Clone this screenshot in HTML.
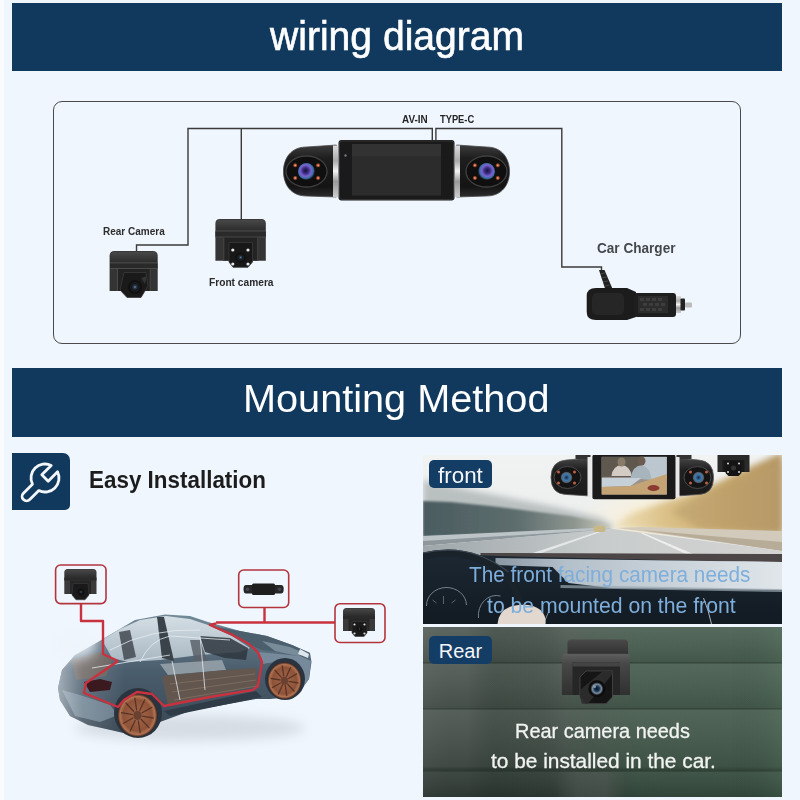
<!DOCTYPE html>
<html><head><meta charset="utf-8">
<style>
*{margin:0;padding:0;box-sizing:border-box}
html,body{width:800px;height:800px;overflow:hidden;background:#eff6fe}
body{font-family:"Liberation Sans",sans-serif;position:relative}
.abs{position:absolute}
.t{position:absolute;line-height:1;white-space:nowrap;transform-origin:0 0}
svg{position:absolute;left:0;top:0}
</style></head>
<body>
<div class="abs" style="left:0;top:0;width:3.5px;height:800px;background:#f9fbfd"></div>
<div class="abs" style="left:12px;top:3px;width:770px;height:68px;background:#11395e"></div>
<div class="abs" style="left:53px;top:101.2px;width:687.6px;height:243px;border:1.6px solid #4a4a4a;border-radius:9px"></div>
<div class="abs" style="left:12px;top:368px;width:770px;height:69px;background:#11395e"></div>
<svg width="800" height="800" viewBox="0 0 800 800">
  <defs>
    <linearGradient id="podg" x1="0" y1="0" x2="0" y2="1">
      <stop offset="0" stop-color="#3c3c3c"/><stop offset="0.25" stop-color="#1e1e1e"/><stop offset="0.8" stop-color="#141414"/><stop offset="1" stop-color="#2e2e2e"/>
    </linearGradient>
    <linearGradient id="silv" x1="0" y1="0" x2="1" y2="0">
      <stop offset="0" stop-color="#777"/><stop offset="0.5" stop-color="#f4f4f4"/><stop offset="1" stop-color="#888"/>
    </linearGradient>
    <linearGradient id="silvv" x1="0" y1="0" x2="0" y2="1">
      <stop offset="0" stop-color="#ddd"/><stop offset="0.3" stop-color="#aaa"/><stop offset="0.5" stop-color="#f4f4f4"/><stop offset="0.7" stop-color="#999"/><stop offset="1" stop-color="#ccc"/>
    </linearGradient>
    <radialGradient id="lens" cx="0.45" cy="0.45" r="0.55">
      <stop offset="0" stop-color="#141430"/><stop offset="0.3" stop-color="#3a2a80"/><stop offset="0.6" stop-color="#7a62d0"/><stop offset="0.82" stop-color="#3a70a8"/><stop offset="1" stop-color="#181c24"/>
    </radialGradient>
    <radialGradient id="led" cx="0.5" cy="0.5" r="0.5">
      <stop offset="0" stop-color="#ffd0a0"/><stop offset="0.45" stop-color="#c05a38"/><stop offset="1" stop-color="#3a1a14"/>
    </radialGradient>
    <linearGradient id="camtop" x1="0" y1="0" x2="0" y2="1">
      <stop offset="0" stop-color="#484848"/><stop offset="0.5" stop-color="#3a3a3a"/><stop offset="1" stop-color="#2c2c2c"/>
    </linearGradient>
    <radialGradient id="clens" cx="0.5" cy="0.5" r="0.5">
      <stop offset="0" stop-color="#6a8ab0"/><stop offset="0.35" stop-color="#2a3a4a"/><stop offset="0.8" stop-color="#101418"/><stop offset="1" stop-color="#2a2a2a"/>
    </radialGradient>
    <g id="pod">
      <path d="M0,-2 L-30,0 C-46,0 -53,12 -53,24.5 C-53,37 -46,49 -30,49 L0,50 Z" fill="url(#podg)" stroke="#4a4a4a" stroke-width="0.8"/>
      <ellipse cx="-30" cy="24.5" rx="20.5" ry="15.5" fill="#0f0f0f" stroke="#404040" stroke-width="1.3"/>
      <circle cx="-30" cy="24.5" r="8.5" fill="url(#lens)"/>
      <circle cx="-41.3" cy="18.3" r="2.3" fill="url(#led)"/>
      <circle cx="-18.4" cy="18.3" r="2.3" fill="url(#led)"/>
      <circle cx="-41.3" cy="31" r="2.3" fill="url(#led)"/>
      <circle cx="-18.4" cy="31" r="2.3" fill="url(#led)"/>
      <rect x="-3.5" y="-1.5" width="5" height="51.5" fill="url(#silvv)"/>
    </g>
  </defs>
  <!-- wires -->
  <g fill="none" stroke="#3a3a3a" stroke-width="1.4">
    <polyline points="136.5,252 136.5,245 188,245 188,128.5 432.3,128.5 432.3,141"/>
    <line x1="241.3" y1="128.5" x2="241.3" y2="219.5"/>
    <polyline points="435.9,141 435.9,128.5 561.8,128.5 561.8,267 601.5,267 601.5,272"/>
  </g>
  <!-- dashcam -->
  <use href="#pod" transform="translate(336.5,147)"/>
  <use href="#pod" transform="translate(456.5,147) scale(-1,1)"/>
  <rect x="338.5" y="140" width="116" height="60.5" rx="3" fill="#1a1a1a"/>
  <rect x="339.5" y="141" width="114" height="58.5" rx="2.5" fill="none" stroke="#3a3a3a" stroke-width="0.8"/>
  <rect x="352" y="144" width="89" height="51.5" fill="#2c2c2c"/>
  <rect x="352" y="144" width="89" height="12" fill="#323232"/>
  <circle cx="345.5" cy="155.5" r="1.2" fill="#777"/>

  <!-- rear camera -->
  <g>
    <path d="M109.6,291 L109.6,256 Q109.6,251 114.6,251 L152.7,251 Q157.7,251 157.7,256 L157.7,291 Z" fill="#343434"/>
    <path d="M110.3,262.5 L110.3,256 Q110.3,251.8 114.6,251.8 L152.7,251.8 Q157,251.8 157,256 L157,262.5 Z" fill="url(#camtop)"/>
    <rect x="110" y="262.5" width="47.5" height="1" fill="#555"/>
    <rect x="110" y="263.5" width="47.5" height="4.5" fill="#2a2a2a"/>
    <rect x="110" y="268" width="47.5" height="1" fill="#4a4a4a"/>
    <rect x="117" y="269" width="33.7" height="22" fill="#232323"/>
    <rect x="117" y="269" width="1" height="22" fill="#4a4a4a"/><rect x="149.7" y="269" width="1" height="22" fill="#4a4a4a"/>
    <path d="M124,272.5 L146,272.5 L148,286 L141,297.5 L127,297.5 L120,290 Z" fill="#1a1a1a" stroke="#3a3a3a" stroke-width="0.8"/>
    <path d="M141,278 L147,276 L145,284 Z" fill="#333"/>
    <circle cx="135" cy="287" r="7" fill="#101010"/>
    <circle cx="135" cy="287" r="4.5" fill="url(#clens)"/>
  </g>
  <!-- front camera -->
  <g>
    <path d="M215.4,260.7 L215.4,223.5 Q215.4,219 219.9,219 L261.3,219 Q265.8,219 265.8,223.5 L265.8,260.7 Z" fill="#343434"/>
    <path d="M216.1,230.6 L216.1,223.5 Q216.1,219.8 219.9,219.8 L261.3,219.8 Q265.1,219.8 265.1,223.5 L265.1,230.6 Z" fill="url(#camtop)"/>
    <rect x="215.4" y="230.6" width="50.4" height="1" fill="#555"/>
    <rect x="215.4" y="231.6" width="50.4" height="5" fill="#2a2a2a"/>
    <rect x="215.4" y="236.6" width="50.4" height="1" fill="#4a4a4a"/>
    <rect x="223.3" y="237.6" width="35" height="23" fill="#232323"/>
    <rect x="223.3" y="237.6" width="1" height="23" fill="#4a4a4a"/><rect x="257.3" y="237.6" width="1" height="23" fill="#4a4a4a"/>
    <path d="M229,242.5 L252.5,242.5 L252.5,262 L248,267.3 L233,267.3 L229,262 Z" fill="#181818" stroke="#383838" stroke-width="0.8"/>
    <circle cx="232.8" cy="250" r="1.6" fill="#e8e8e8"/>
    <circle cx="248" cy="250" r="1.6" fill="#e8e8e8"/>
    <circle cx="232.8" cy="264" r="1.6" fill="#e8e8e8"/>
    <circle cx="248" cy="264" r="1.6" fill="#e8e8e8"/>
    <circle cx="240.6" cy="257.4" r="5" fill="#101010"/>
    <circle cx="240.6" cy="257.4" r="3.2" fill="url(#clens)"/>
  </g>
  <!-- car charger -->
  <g>
    <path d="M599,270 L604.5,270 L613,290 L606,291.5 Z" fill="#222"/>
    <g stroke="#555" stroke-width="0.7"><line x1="600.5" y1="274" x2="605" y2="273"/><line x1="601.5" y1="278" x2="606.5" y2="277"/><line x1="603" y1="282" x2="608" y2="281"/><line x1="604.5" y1="286" x2="609.5" y2="285"/></g>
    <path d="M627,288 L596,288 Q586.7,288 586.7,296 L586.7,312 Q586.7,320 596,320 L627,320 L636,317 L636,292 Z" fill="#1c1c1c"/>
    <rect x="592" y="293" width="32" height="22" rx="5" fill="#262626"/>
    <rect x="634" y="293" width="42" height="24" rx="3" fill="#1e1e1e"/>
    <rect x="638" y="296" width="30" height="17" fill="#2c2c2c"/>
    <g fill="#3d3d3d"><rect x="640" y="298" width="4" height="3"/><rect x="646" y="298" width="4" height="3"/><rect x="652" y="298" width="4" height="3"/><rect x="658" y="298" width="4" height="3"/><rect x="643" y="303" width="4" height="3"/><rect x="649" y="303" width="4" height="3"/><rect x="655" y="303" width="4" height="3"/><rect x="661" y="303" width="4" height="3"/><rect x="640" y="308" width="4" height="3"/><rect x="646" y="308" width="4" height="3"/><rect x="652" y="308" width="4" height="3"/><rect x="658" y="308" width="4" height="3"/></g>
    <rect x="676" y="296" width="5" height="17" fill="url(#silvv)"/>
    <rect x="680.5" y="298.5" width="4.5" height="12" rx="1" fill="#222"/>
    <rect x="685" y="302.5" width="7" height="5" rx="1" fill="#bbb"/>
  </g>
</svg>

<div class="abs" style="left:12px;top:453px;width:57.5px;height:57px;background:#11395e;border-radius:0 7px 5px 0"></div>
<svg width="800" height="800" viewBox="0 0 800 800"><path transform="translate(45,478) rotate(45)" d="M-4.5,-13.26 L-4.5,0 L4.5,0 L4.5,-13.26 A14,14 0 0 1 4.5,13.26 L4.5,26 A4.5,4.5 0 0 1 -4.5,26 L-4.5,13.26 A14,14 0 0 1 -4.5,-13.26 Z" fill="none" stroke="#f4f7fa" stroke-width="2.8" stroke-linejoin="round"/></svg>
<svg width="800" height="800" viewBox="0 0 800 800">
  <defs>
    <filter id="blur6" x="-20%" y="-50%" width="140%" height="200%"><feGaussianBlur stdDeviation="6"/></filter>
    <filter id="blur2"><feGaussianBlur stdDeviation="1.5"/></filter>
    <filter id="blur1"><feGaussianBlur stdDeviation="0.7"/></filter>
    <linearGradient id="bodyg" x1="0" y1="0" x2="0" y2="1">
      <stop offset="0" stop-color="#6c8494"/><stop offset="0.45" stop-color="#425666"/><stop offset="1" stop-color="#2e3c48"/>
    </linearGradient>
    <linearGradient id="glassg" x1="0" y1="0" x2="0" y2="1">
      <stop offset="0" stop-color="#e6edf2"/><stop offset="1" stop-color="#b8c6d0"/>
    </linearGradient>
    <radialGradient id="wheelg" cx="0.5" cy="0.5" r="0.5">
      <stop offset="0" stop-color="#5a3428"/><stop offset="0.25" stop-color="#9c6044"/><stop offset="0.72" stop-color="#8e5238"/><stop offset="0.88" stop-color="#b07452"/><stop offset="0.95" stop-color="#6a4030"/><stop offset="1" stop-color="#2e2224"/>
    </radialGradient>
  </defs>
  <!-- soft shadow/haze -->
  <ellipse cx="190" cy="728" rx="115" ry="13" fill="#d6dde4" filter="url(#blur6)"/>
  <!-- body silhouette -->
  <path d="M60,700 L58,688 L62,670 L75,655 L98,642 L108,636 L135,620 L165,614.5 L190,616 L208,622 L240,631 L267,636 L292,645 L310,653 L311.5,662 L309,679 L301,690 L292,697 L270,699 L256,699 L190,711 L160,722 L140,737 L115,731 L88,725 L70,716 Z" fill="url(#bodyg)" opacity="0.95"/>
  <!-- rear lighter haze on left -->
  <path d="M72,660 L100,652 L112,660 L106,676 L76,680 Z" fill="#6e6058" opacity="0.85" filter="url(#blur1)"/>
  <path d="M62,690 L80,695 L110,705 L118,715 L100,722 L75,716 Z" fill="#7e92a2" opacity="0.7" filter="url(#blur1)"/>
  <linearGradient id="rearfade" gradientUnits="userSpaceOnUse" x1="55" y1="0" x2="125" y2="0"><stop offset="0" stop-color="#eef4fa" stop-opacity="0.6"/><stop offset="0.4" stop-color="#dfe8ef" stop-opacity="0.2"/><stop offset="1" stop-color="#dfe8ef" stop-opacity="0"/></linearGradient>
  <path d="M60,700 L58,688 L62,670 L75,655 L98,642 L108,636 L125,628 L125,735 L115,731 L88,725 L70,716 Z" fill="url(#rearfade)"/>
  <ellipse cx="75" cy="645" rx="22" ry="14" fill="#eef4fa" opacity="0.8" filter="url(#blur6)"/>
  <!-- glass greenhouse -->
  <path d="M102,640 L120,629 L140,620 L166,616 L190,619 L208,625 L232,636 L250,648 L240,652 L200,655 L160,660 L128,662 L112,658 Z" fill="url(#glassg)" opacity="0.85"/>
  <!-- hood -->
  <path d="M216,627 L240,631 L267,636 L292,645 L310,653 L305,657 L280,652 L262,650 L250,645 Z" fill="#4a5e6c" opacity="0.95"/>
  <path d="M262,641 L290,647 L306,654 L298,656 L275,651 Z" fill="#8a9eac" opacity="0.7"/>
  <!-- front fender / bumper -->
  <path d="M258,652 L300,656 L311,661 L309,679 L301,690 L296,680 L290,668 L275,662 L262,664 Z" fill="#7a8ea0" opacity="0.9"/>
  <path d="M300,649 L309,654 L308,658 L298,654 Z" fill="#dde6ec"/>
  <!-- dashboard dark -->
  <path d="M200,636 L230,638 L248,648 L246,660 L225,658 L205,652 Z" fill="#2e363e" opacity="0.85"/>
  <!-- B pillar -->
  <path d="M157,617 L164,617 L174,661 L162,658 Z" fill="#3a424a"/>
  <!-- rear seat -->
  <path d="M119,632 L130,630 L136,657 L124,660 Z" fill="#4a5058" opacity="0.9"/>
  <!-- front seats -->
  <path d="M190,640 L200,640 L210,668 L196,668 Z" fill="#5a626a" opacity="0.85"/>
  <path d="M160,664 L222,660 L226,670 L168,675 Z" fill="#9aa4ac" opacity="0.85"/>
  <!-- floor -->
  <path d="M162,676 L226,670 L256,668 L258,686 L220,694 L168,706 Z" fill="#64564e" opacity="0.95"/>
  <g stroke="#8a7868" stroke-width="0.8" opacity="0.8"><line x1="170" y1="684" x2="255" y2="674"/><line x1="172" y1="692" x2="256" y2="680"/><line x1="174" y1="700" x2="257" y2="686"/></g>
  <!-- interior frame lines (light) -->
  <g fill="none" stroke="#e8eef2" stroke-width="0.9" opacity="0.85">
    <path d="M110,650 Q150,628 200,630"/>
    <path d="M140,662 Q150,640 170,636 L230,640"/>
    <path d="M200,636 L205,690"/>
    <path d="M172,661 L180,700"/>
    <path d="M92,668 L170,655"/>
  </g>
  <!-- tail light -->
  <path d="M84,682 L100,679 L112,682 L110,690 L90,692 Z" fill="#3a1a1e"/>
  <!-- lower sill dark band -->
  <path d="M164,711 L256,691 L262,697 L170,716 Z" fill="#2f3c48"/>
  <!-- wheel arches dark -->
  <ellipse cx="138" cy="713" rx="24" ry="25" fill="#2a3440"/>
  <ellipse cx="285" cy="679" rx="20" ry="21" fill="#2a3440"/>
  <!-- wheels -->
  <ellipse cx="137.5" cy="715.4" rx="20" ry="21.6" fill="url(#wheelg)"/>
  <ellipse cx="284.5" cy="680.7" rx="17" ry="18.5" fill="url(#wheelg)"/>
  <g stroke="#4a2a20" stroke-width="1.3" opacity="0.8"><line x1="142.2" y1="716.2" x2="154.0" y2="718.1"/><line x1="140.9" y1="719.0" x2="149.4" y2="728.1"/><line x1="138.3" y1="720.5" x2="140.2" y2="733.2"/><line x1="135.4" y1="720.0" x2="130.0" y2="731.5"/><line x1="133.3" y1="717.8" x2="122.7" y2="723.7"/><line x1="132.8" y1="714.6" x2="121.0" y2="712.7"/><line x1="134.1" y1="711.8" x2="125.6" y2="702.7"/><line x1="136.7" y1="710.3" x2="134.8" y2="697.6"/><line x1="139.6" y1="710.8" x2="145.0" y2="699.3"/><line x1="141.7" y1="713.0" x2="152.3" y2="707.1"/><line x1="288.5" y1="681.4" x2="298.4" y2="683.0"/><line x1="287.3" y1="683.8" x2="294.5" y2="691.5"/><line x1="285.2" y1="685.0" x2="286.8" y2="695.9"/><line x1="282.7" y1="684.6" x2="278.2" y2="694.5"/><line x1="280.9" y1="682.7" x2="272.0" y2="687.8"/><line x1="280.5" y1="680.0" x2="270.6" y2="678.4"/><line x1="281.7" y1="677.6" x2="274.5" y2="669.9"/><line x1="283.8" y1="676.4" x2="282.2" y2="665.5"/><line x1="286.3" y1="676.8" x2="290.8" y2="666.9"/><line x1="288.1" y1="678.7" x2="297.0" y2="673.6"/></g>
  <ellipse cx="137.5" cy="715.4" rx="4" ry="4.5" fill="#6a4030"/>
  <ellipse cx="284.5" cy="680.7" rx="3.5" ry="4" fill="#6a4030"/>
  <!-- red wire harness -->
  <g fill="none" stroke="#c8323e" stroke-width="2.4" stroke-linejoin="round">
    <polyline points="81,603.5 81,621 103,621 103,654 118,661"/>
    <polyline points="118,661 86,683 84,693 118,707 124,700 137,692 152,694 164,706 210,697 252.5,690 258,686 262,662 258,652.5 249,644 232,634.7 210,625 216,623.5"/>
    <polyline points="216,622.5 335,622.5"/>
    <polyline points="264.5,607.5 264.5,622.5"/>
  </g>
  <!-- red inset boxes -->
  <g fill="#eff6fe" stroke="#b4343e" stroke-width="1.6">
    <rect x="55.6" y="565" width="50.4" height="38.6" rx="5"/>
    <rect x="238.7" y="570" width="50" height="37.5" rx="5"/>
    <rect x="335" y="603.7" width="50" height="38.8" rx="5"/>
  </g>
  <!-- inset: rear cam -->
  <g>
    <path d="M64.3,594 L64.3,572.5 Q64.3,569 67.8,569 L93,569 Q96.5,569 96.5,572.5 L96.5,594 Z" fill="#3a3a3a"/>
    <path d="M65,577.5 L65,572.5 Q65,569.7 67.8,569.7 L93,569.7 Q95.8,569.7 95.8,572.5 L95.8,577.5 Z" fill="url(#camtop)"/>
    <rect x="64.3" y="577.5" width="32.2" height="3" fill="#2a2a2a"/>
    <rect x="70" y="580.5" width="21" height="13.5" fill="#262626"/>
    <path d="M73,583.5 L88,583.5 L89,595 L85,599.8 L76,599.8 L72,595 Z" fill="#1a1a1a" stroke="#3a3a3a" stroke-width="0.6"/>
    <circle cx="81" cy="592" r="3.6" fill="#101010"/><circle cx="81" cy="592" r="1.8" fill="url(#clens)"/>
  </g>
  <!-- inset: dashcam -->
  <g>
    <rect x="252" y="583.5" width="23" height="11.5" rx="1.5" fill="#1e1e1e"/>
    <path d="M252,585 L246,585 Q243.5,585 243.5,589 Q243.5,593.5 246,593.5 L252,593.5 Z" fill="#262626"/>
    <path d="M275,585 L281,585 Q283.7,585 283.7,589 Q283.7,593.5 281,593.5 L275,593.5 Z" fill="#262626"/>
    <circle cx="247.5" cy="589.2" r="1.8" fill="#445"/><circle cx="279.5" cy="589.2" r="1.8" fill="#445"/>
  </g>
  <!-- inset: front cam -->
  <g>
    <path d="M343,631 L343,611.5 Q343,608 346.5,608 L371.5,608 Q375,608 375,611.5 L375,631 Z" fill="#3a3a3a"/>
    <path d="M343.7,616 L343.7,611.5 Q343.7,608.7 346.5,608.7 L371.5,608.7 Q374.3,608.7 374.3,611.5 L374.3,616 Z" fill="url(#camtop)"/>
    <rect x="343" y="616" width="32" height="3" fill="#2a2a2a"/>
    <rect x="348.5" y="619" width="21" height="12" fill="#262626"/>
    <path d="M352,621.5 L367,621.5 L367,633 L364,636.5 L355,636.5 L352,633 Z" fill="#1a1a1a" stroke="#3a3a3a" stroke-width="0.6"/>
    <circle cx="354.5" cy="624.5" r="1.1" fill="#ddd"/><circle cx="364.5" cy="624.5" r="1.1" fill="#ddd"/>
    <circle cx="354.5" cy="633.5" r="1.1" fill="#ddd"/><circle cx="364.5" cy="633.5" r="1.1" fill="#ddd"/>
    <circle cx="359.5" cy="629" r="2.6" fill="#101010"/><circle cx="359.5" cy="629" r="1.4" fill="url(#clens)"/>
  </g>
</svg>

<div class="abs" style="left:422.5px;top:455px;width:359.5px;height:169px;background:#8a8f90;overflow:hidden"><svg width="359.5" height="169" viewBox="422.5 455 359.5 169" style="position:absolute;left:0;top:0">
  <defs>
    <linearGradient id="fsky" x1="0" y1="0" x2="0" y2="1"><stop offset="0" stop-color="#f1f3f3"/><stop offset="1" stop-color="#e6e8e6"/></linearGradient>
    <radialGradient id="fglow" cx="0.5" cy="0.5" r="0.5"><stop offset="0" stop-color="#fbf0d6"/><stop offset="1" stop-color="#fbf0d6" stop-opacity="0"/></radialGradient>
    <linearGradient id="ftree" x1="0" y1="0" x2="1" y2="0"><stop offset="0" stop-color="#4a5c60"/><stop offset="0.5" stop-color="#5e6e6e"/><stop offset="0.8" stop-color="#8e9690"/><stop offset="1" stop-color="#d0cec0"/></linearGradient>
    <linearGradient id="fgrass" x1="0" y1="0" x2="1" y2="0"><stop offset="0" stop-color="#efe2bc"/><stop offset="0.3" stop-color="#dcc28a"/><stop offset="0.7" stop-color="#c4a468"/><stop offset="1" stop-color="#b49664"/></linearGradient>
    <linearGradient id="froad" x1="0" y1="0" x2="1" y2="0"><stop offset="0" stop-color="#9ea6aa"/><stop offset="0.5" stop-color="#c8cccc"/><stop offset="1" stop-color="#d4d4d2"/></linearGradient>
    <linearGradient id="fdash" x1="0" y1="0" x2="0" y2="1"><stop offset="0" stop-color="#1c2833"/><stop offset="1" stop-color="#121a22"/></linearGradient>
    <linearGradient id="fdtop" x1="0" y1="0" x2="1" y2="0"><stop offset="0" stop-color="#8a98a4"/><stop offset="0.25" stop-color="#b4c0ca"/><stop offset="1" stop-color="#e0e6ea"/></linearGradient>
    <filter id="fb3" x="-10%" y="-30%" width="120%" height="160%"><feGaussianBlur stdDeviation="3"/></filter>
    <filter id="fb1"><feGaussianBlur stdDeviation="1"/></filter>
    <filter id="fb05"><feGaussianBlur stdDeviation="0.6"/></filter>
  </defs>
  <rect x="422.5" y="455" width="359.5" height="169" fill="url(#fsky)"/>
  <ellipse cx="650" cy="515" rx="70" ry="30" fill="url(#fglow)"/>
  <!-- trees left -->
  <path d="M422.5,480 L440,484 L470,490 L510,498 L560,508 L600,518 L615,527 L600,531 L422.5,537 Z" fill="#a4acac" opacity="0.7" filter="url(#fb3)"/>
  <path d="M422.5,501 L450,502 L490,506 L530,511 L570,516 L600,522 L612,527 L600,530 L422.5,537 Z" fill="url(#ftree)" filter="url(#fb1)"/>
  <!-- grass right -->
  <path d="M782,452 L760,462 L730,476 L700,491 L660,503 L630,514 L612,527 L660,531 L782,534 Z" fill="url(#fgrass)" filter="url(#fb3)"/>
  <path d="M782,462 L740,478 L700,496 L670,512 L700,528 L782,530 Z" fill="#b89c6c" opacity="0.55" filter="url(#fb3)"/>
  <!-- guardrails -->
  <path d="M422.5,536 L605,527.5 L612,528.5 L600,531 L422.5,545 Z" fill="#bcc4c8"/>
  <path d="M422.5,541 L600,530 L422.5,546 Z" fill="#8e989c"/>
  <path d="M782,531 L640,527 L616,528 L640,531 L782,551 Z" fill="#d2cabb"/>
  <path d="M782,542 L640,530 L782,551 Z" fill="#b0a48e" opacity="0.8"/>
  <!-- road -->
  <path d="M422.5,546 L612,529 L782,551 L782,560 L422.5,560 Z" fill="url(#froad)"/>
  <path d="M596,532 L600,532 L530,557 L520,557 Z" fill="#eef0f0" opacity="0.8"/>
  <path d="M640,533 L643,533 L700,557 L692,557 Z" fill="#f2f2f0" opacity="0.9"/>
  <rect x="593" y="526" width="12" height="6" rx="2" fill="#c8b888"/>
  <!-- hood line -->
  <path d="M480,553 L782,554 L782,562 L480,558.5 Z" fill="#4c4646"/>
  <!-- dashboard -->
  <path d="M422.5,553 L500,556 L782,563 L782,624 L422.5,624 Z" fill="url(#fdash)"/>
  <path d="M495,558 L782,562 L782,590 L610,588 L568,583 L552,567 L495,565 Z" fill="url(#fdtop)"/>
  <path d="M560,585 L782,589 L782,592 L560,588 Z" fill="#9aa6b0" opacity="0.7"/>
  <!-- gauges -->
  <g fill="none" stroke="#8a98a4" stroke-width="1" opacity="0.8">
    <path d="M426,606 A20,18 0 0 1 466,605"/>
    <path d="M478,618 A18,20 0 0 1 500,596"/>
  </g>
  <g stroke="#8a98a4" stroke-width="0.8" opacity="0.7"><line x1="443" y1="596" x2="443" y2="604"/><line x1="432" y1="600" x2="436" y2="603"/><line x1="455" y1="600" x2="451" y2="603"/></g>
  <!-- steering wheel -->
  <path d="M422.5,556 Q470,545 505,575 Q522,595 522,624" fill="none" stroke="#1a222a" stroke-width="7"/>
  <path d="M422.5,553 Q470,542 508,572" fill="none" stroke="#3a4650" stroke-width="1.2"/>
  <!-- hand -->
  <path d="M497,624 Q498,610 512,606 Q530,602 540,610 Q546,616 545,624 Z" fill="#e3d8cf"/>
  <!-- reflection line -->
  <path d="M703,598 Q708,610 711,624" fill="none" stroke="#d0d8de" stroke-width="1" opacity="0.8"/>
  <path d="M548,612 L543,624" stroke="#d0d8de" stroke-width="1" opacity="0.6"/>
  <!-- dashcam product -->
  <defs>
    <radialGradient id="flens" cx="0.5" cy="0.5" r="0.5"><stop offset="0" stop-color="#1a2a44"/><stop offset="0.5" stop-color="#3a78b0"/><stop offset="0.8" stop-color="#5a6a7a"/><stop offset="1" stop-color="#202020"/></radialGradient>
    <linearGradient id="fpod" x1="0" y1="0" x2="0" y2="1"><stop offset="0" stop-color="#444"/><stop offset="0.3" stop-color="#222"/><stop offset="1" stop-color="#1a1a1a"/></linearGradient>
  </defs>
  <path d="M590,458 L566,460 Q550.5,461 550.5,477.5 Q550.5,494 566,494.5 L590,496 Z" fill="url(#fpod)" stroke="#555" stroke-width="0.8"/>
  <path d="M676,458 L698,460 Q713,461 713,477.5 Q713,494 698,494.5 L676,496 Z" fill="url(#fpod)" stroke="#555" stroke-width="0.8"/>
  <rect x="575" y="452" width="15" height="7" fill="#333"/>
  <rect x="676" y="452" width="15" height="7" fill="#333"/>
  <ellipse cx="567" cy="477.5" rx="13.5" ry="11" fill="#141414" stroke="#4a4a4a" stroke-width="1"/>
  <ellipse cx="697" cy="477.5" rx="13.5" ry="11" fill="#141414" stroke="#4a4a4a" stroke-width="1"/>
  <circle cx="566" cy="477.5" r="6" fill="url(#flens)"/>
  <circle cx="698" cy="477.5" r="6" fill="url(#flens)"/>
  <g fill="#c06040"><circle cx="558" cy="472" r="1.5"/><circle cx="574" cy="472" r="1.5"/><circle cx="558" cy="483" r="1.5"/><circle cx="574" cy="483" r="1.5"/><circle cx="690" cy="472" r="1.5"/><circle cx="706" cy="472" r="1.5"/><circle cx="690" cy="483" r="1.5"/><circle cx="706" cy="483" r="1.5"/></g>
  <rect x="587" y="457" width="4" height="40" fill="#e8e8e8"/>
  <rect x="675" y="457" width="4" height="40" fill="#e8e8e8"/>
  <rect x="591.9" y="454.75" width="83.1" height="44.6" rx="2" fill="#1a1a1a"/>
  <rect x="601.25" y="456.9" width="65" height="37.5" fill="#8a8a84"/>
  <!-- screen content -->
  <g filter="url(#fb05)">
  <rect x="601.25" y="456.9" width="65" height="37.5" fill="#9a9288"/>
  <rect x="601.25" y="456.9" width="40" height="20" fill="#5e5850"/>
  <rect x="641" y="456.9" width="25.25" height="22" fill="#bcc6ce"/>
  <path d="M611,476 Q612,466 621,465 Q630,466 631,476 Z" fill="#d4ccc4"/>
  <path d="M630,478 Q632,466 641,465 Q650,467 651,480 Z" fill="#a8b4bc"/>
  <ellipse cx="621" cy="462" rx="4" ry="4.5" fill="#8a7a6a"/>
  <ellipse cx="641" cy="461" rx="4" ry="4.5" fill="#6a5a50"/>
  <path d="M601.25,478 L641,478 L630,486 L601.25,487 Z" fill="#c6d0d8"/>
  <path d="M601.25,487 L630,486 L666.25,474 L666.25,494.4 L601.25,494.4 Z" fill="#c4a474"/>
  <ellipse cx="653" cy="488" rx="6" ry="3" fill="#8a3a30"/>
  </g>
  <!-- small rear cam -->
  <path d="M717,472 L717,456 Q717,453 720,453 L746,453 Q749,453 749,456 L749,472 Z" fill="#2a2a2a"/>
  <rect x="722" y="460" width="22" height="12" fill="#1a1a1a"/>
  <path d="M725,461 L741,461 L741,473 L738,476 L728,476 L725,473 Z" fill="#141414"/>
  <g fill="#ddd"><circle cx="727.5" cy="463.5" r="1"/><circle cx="738.5" cy="463.5" r="1"/><circle cx="727.5" cy="472" r="1"/><circle cx="738.5" cy="472" r="1"/></g>
  <circle cx="733" cy="468" r="2.5" fill="#333"/>
</svg>
<div style="position:absolute;left:6.3px;top:5.3px;width:63.4px;height:28.2px;background:#143d66;border-radius:5px"></div>
</div>
<div class="abs" style="left:423px;top:627px;width:359px;height:170px;background:#4a5a50;overflow:hidden"><svg width="359" height="170" viewBox="423 627 359 170" style="position:absolute;left:0;top:0">
  <defs>
    <linearGradient id="rbgv" x1="0" y1="0" x2="0" y2="1"><stop offset="0" stop-color="#525c56"/><stop offset="0.45" stop-color="#4c5650"/><stop offset="0.82" stop-color="#444e48"/><stop offset="0.84" stop-color="#323c37"/><stop offset="1" stop-color="#303a35"/></linearGradient>
    <linearGradient id="rvband" gradientUnits="userSpaceOnUse" x1="423" y1="0" x2="782" y2="0"><stop offset="0" stop-color="#ffffff" stop-opacity="0.03"/><stop offset="0.12" stop-color="#000000" stop-opacity="0"/><stop offset="0.2" stop-color="#0a1a10" stop-opacity="0.16"/><stop offset="0.32" stop-color="#0a1a10" stop-opacity="0.12"/><stop offset="0.4" stop-color="#000000" stop-opacity="0"/><stop offset="0.85" stop-color="#000000" stop-opacity="0"/><stop offset="1" stop-color="#8ac09a" stop-opacity="0.08"/></linearGradient>
    <linearGradient id="rpatch" x1="0" y1="0" x2="1" y2="0"><stop offset="0" stop-color="#5a5e5c" stop-opacity="0"/><stop offset="0.3" stop-color="#5a5e5c" stop-opacity="0.4"/><stop offset="0.7" stop-color="#5a5e5c" stop-opacity="0.4"/><stop offset="1" stop-color="#5a5e5c" stop-opacity="0"/></linearGradient>
    <linearGradient id="rbg" x1="0" y1="0" x2="1" y2="0"><stop offset="0" stop-color="#3c6a4c" stop-opacity="0"/><stop offset="0.35" stop-color="#3c6a4c" stop-opacity="0.05"/><stop offset="0.6" stop-color="#3c6a4c" stop-opacity="0.3"/><stop offset="1" stop-color="#3c6a4c" stop-opacity="0.35"/></linearGradient>
    <linearGradient id="rband" x1="0" y1="0" x2="0" y2="1"><stop offset="0" stop-color="#ffffff" stop-opacity="0.06"/><stop offset="1" stop-color="#000000" stop-opacity="0.08"/></linearGradient>
    <radialGradient id="rlens" cx="0.5" cy="0.5" r="0.5"><stop offset="0" stop-color="#0a1018"/><stop offset="0.4" stop-color="#1e3a58"/><stop offset="0.7" stop-color="#7a90a4"/><stop offset="0.88" stop-color="#3a4048"/><stop offset="1" stop-color="#151515"/></radialGradient>
    <linearGradient id="rtop" x1="0" y1="0" x2="0" y2="1"><stop offset="0" stop-color="#4a4a4a"/><stop offset="1" stop-color="#2e2e2e"/></linearGradient>
    <linearGradient id="rframe" x1="0" y1="0" x2="0" y2="1"><stop offset="0" stop-color="#5e5e5e"/><stop offset="0.25" stop-color="#474747"/><stop offset="1" stop-color="#303030"/></linearGradient>
  </defs>
  <rect x="423" y="627" width="359" height="170" fill="url(#rbgv)"/>
  <rect x="423" y="627" width="359" height="170" fill="url(#rbg)"/>
  <rect x="423" y="627" width="359" height="35" fill="url(#rband)"/>
  <rect x="423" y="663.5" width="359" height="44" fill="url(#rband)"/>
  <rect x="423" y="709.5" width="359" height="60" fill="url(#rband)"/>
  <rect x="423" y="771.5" width="359" height="26" fill="url(#rband)"/>
  <g fill="#2c3830" opacity="0.6"><rect x="423" y="662" width="359" height="1.5"/><rect x="423" y="707.8" width="359" height="1.7"/><rect x="423" y="769.5" width="359" height="2"/></g>
  <rect x="423" y="627" width="359" height="170" fill="url(#rvband)"/>
  <rect x="556" y="772" width="70" height="25" fill="url(#rpatch)"/>
  <!-- camera -->
  <path d="M567.5,656 L567.5,643 Q567.5,639.4 571,639.4 L624.5,639.4 Q628,639.4 628,643 L628,656 Z" fill="url(#rtop)"/>
  <path d="M561.9,695 L561.9,658 Q561.9,653.7 566,653.7 L626,653.7 Q630,653.7 630,658 L630,695 Z" fill="url(#rframe)"/>
  <rect x="572.5" y="662.5" width="47.5" height="32.5" fill="#262626"/>
  <rect x="572.5" y="662.5" width="47.5" height="4" fill="#444"/>
  <path d="M586,671 L612.5,671 L612.5,697 L606,703.75 L586,703.75 L580,697 L580,677 Z" fill="#151515" stroke="#4a4a4a" stroke-width="0.8"/>
  <path d="M580,690 L603,671 L612.5,671 L612.5,674 L588,703.75 L582,703.75 L580,697 Z" fill="#2e2e2e" opacity="0.9"/>
  <circle cx="596.9" cy="688.75" r="8.5" fill="#0c0c0c"/>
  <circle cx="596.9" cy="688.75" r="6.5" fill="url(#rlens)"/>
  <circle cx="594.5" cy="686.5" r="1.5" fill="#9ab" opacity="0.8"/>
</svg>
<div style="position:absolute;left:6px;top:9px;width:62.5px;height:27.5px;background:#143d66;border-radius:5px"></div>
</div>
<div class="t" style="left:270.0px;top:15.89px;font-size:40px;font-weight:400;color:#fff;transform:scaleX(0.977);-webkit-text-stroke:0.6px #fff;">wiring diagram</div>
<div class="t" style="left:243.2px;top:379.48px;font-size:39.6px;font-weight:400;color:#fff;transform:scaleX(1.002);">Mounting Method</div>
<div class="t" style="left:401.9px;top:113.73px;font-size:11.3px;font-weight:700;color:#262626;transform:scaleX(0.879);">AV-IN</div>
<div class="t" style="left:439.6px;top:113.73px;font-size:11.3px;font-weight:700;color:#262626;transform:scaleX(0.824);">TYPE-C</div>
<div class="t" style="left:103.0px;top:225.91px;font-size:10.5px;font-weight:700;color:#2e2e2e;transform:scaleX(0.953);">Rear Camera</div>
<div class="t" style="left:208.5px;top:278.48px;font-size:10.3px;font-weight:700;color:#2a2a2a;transform:scaleX(0.989);">Front camera</div>
<div class="t" style="left:597.2px;top:241.05px;font-size:14px;font-weight:700;color:#45484b;transform:scaleX(0.970);">Car Charger</div>
<div class="t" style="left:89.0px;top:469.36px;font-size:23.2px;font-weight:700;color:#1c1c1c;transform:scaleX(0.967);">Easy Installation</div>
<div class="t" style="left:438.0px;top:464.98px;font-size:22px;font-weight:400;color:#f4f6f8;transform:scaleX(1.018);">front</div>
<div class="t" style="left:438.8px;top:641.37px;font-size:20px;font-weight:400;color:#f4f6f8;transform:scaleX(1.000);">Rear</div>
<div class="t" style="left:468.5px;top:563.95px;font-size:22.5px;font-weight:400;color:#7eaedb;transform:scaleX(0.922);">The front facing camera needs</div>
<div class="t" style="left:486.5px;top:594.75px;font-size:22.5px;font-weight:400;color:#7eaedb;transform:scaleX(0.942);">to be mounted on the front</div>
<div class="t" style="left:514.9px;top:721.42px;font-size:20.3px;font-weight:400;color:#f2f4f2;transform:scaleX(0.982);-webkit-text-stroke:0.3px #f2f4f2;">Rear camera needs</div>
<div class="t" style="left:491.0px;top:750.62px;font-size:20.3px;font-weight:400;color:#f2f4f2;transform:scaleX(1.028);-webkit-text-stroke:0.3px #f2f4f2;">to be installed in the car.</div>

</body></html>
